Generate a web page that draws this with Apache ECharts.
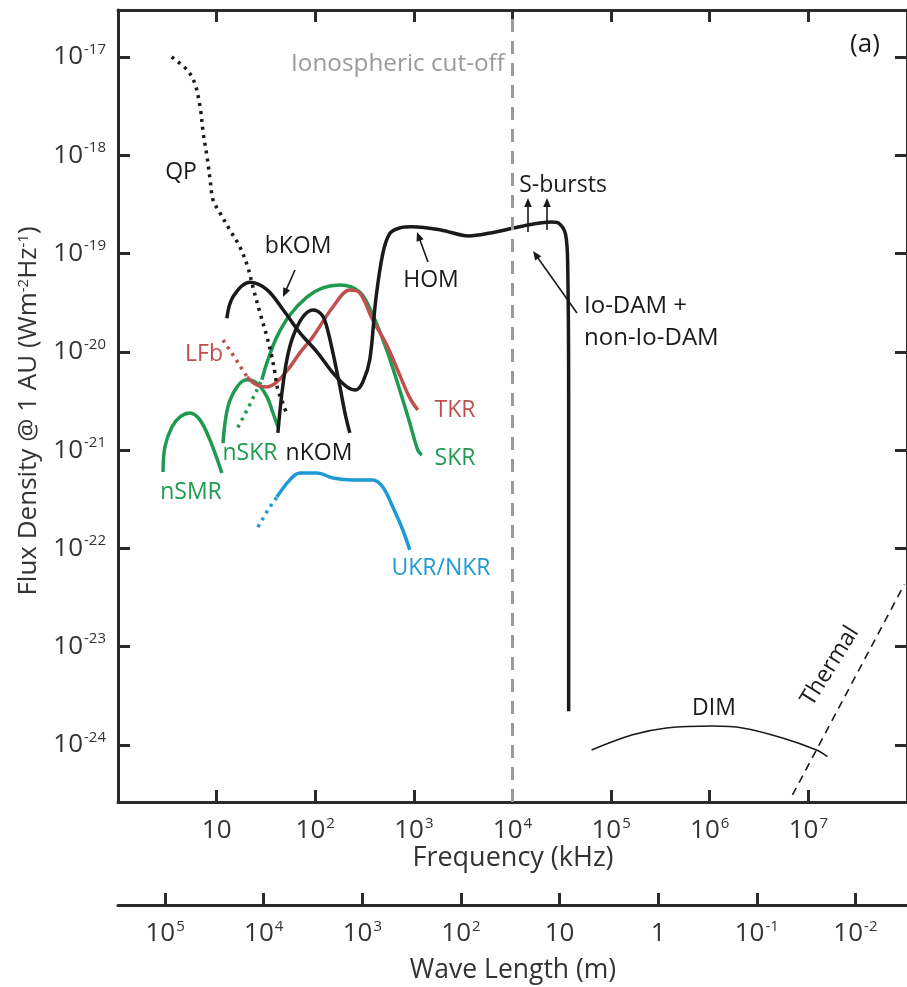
<!DOCTYPE html>
<html>
<head>
<meta charset="utf-8">
<script src="https://cdn.jsdelivr.net/npm/echarts@6/dist/echarts.min.js"></script>
<style>html,body{margin:0;padding:0;background:#fff}#c{width:907px;height:987px}</style>
</head>
<body>
<div id="c"></div>
<script>
// ---------- data (frequency kHz, flux density W m^-2 Hz^-1) ----------
const freqTicks = [10, 1e2, 1e3, 1e4, 1e5, 1e6, 1e7];
const fluxTicks = [1e-17, 1e-18, 1e-19, 1e-20, 1e-21, 1e-22, 1e-23, 1e-24];
const waveTicks = [1e5, 1e4, 1e3, 1e2, 10, 1, 1e-1, 1e-2];
const ionoCutoff = 1e4;

const qp = [[3.5,1.0e-17],[5.0,7.4e-18],[6.0,5.4e-18],[6.8,3.1e-18],[7.3,1.7e-18],[8.0,9.6e-19],[8.6,5.6e-19],[9.2,3.5e-19],[10.8,2.6e-19],[13.6,1.74e-19],[17.2,1.17e-19],[20.7,7.3e-20],[23.3,4.6e-20],[27.5,2.5e-20],[32.4,1.42e-20],[36.3,8.9e-21],[39,6.1e-21],[41.8,4.1e-21],[47,3.0e-21],[51.5,2.3e-21]];
const kom_hom_dam = [[12.7,2.2e-20],[14.6,3.6e-20],[21.7,5.1e-20],[32.3,4.3e-20],[47,2.7e-20],[70,1.56e-20],[104,1.0e-20],[151,6.1e-21],[209,4.4e-21],[258,4.1e-21],[303,4.9e-21],[357,8.3e-21],[411,3.4e-20],[484,1.0e-19],[570,1.6e-19],[719,1.82e-19],[952,1.87e-19],[1875,1.74e-19],[3600,1.51e-19],[6000,1.62e-19],[10300,1.82e-19],[16400,2.0e-19],[24900,2.09e-19],[30100,2.0e-19],[34600,1.55e-19],[36300,7.3e-20],[37100,3.2e-21],[37100,2.2e-24]];
const nkom = [[41.8,1.5e-21],[45.9,3.8e-21],[51.5,8.3e-21],[59.3,1.42e-20],[74.8,2.26e-20],[94.6,2.67e-20],[117,2.37e-20],[131,1.79e-20],[151,9.8e-21],[178,4.4e-21],[200,2.4e-21],[224,1.5e-21]];
const skr = [[28.8,5.2e-21],[32.3,7.7e-21],[40.8,1.42e-20],[55.3,2.37e-20],[82.2,3.61e-20],[119,4.47e-20],[178,4.8e-20],[283,4.07e-20],[383,2.37e-20],[531,1.04e-20],[719,4.09e-21],[909,1.89e-21],[1096,1.0e-21],[1203,8.9e-22]];
const nskrDotted = [[16.4,1.7e-21],[21.7,2.9e-21],[28.8,5.2e-21]];
const nskr = [[11.6,1.18e-21],[13.0,2.75e-21],[16.1,4.4e-21],[20.3,5.2e-21],[25.6,4.8e-21],[32.3,3.5e-21],[37.2,2.4e-21],[41.8,1.72e-21]];
const nsmr = [[2.86,6.0e-22],[2.99,1.08e-21],[3.52,1.72e-21],[4.25,2.18e-21],[5.36,2.39e-21],[6.77,2.03e-21],[8.55,1.27e-21],[11.3,5.86e-22]];
const lfb = [[11.6,1.32e-20],[15.3,8.7e-21],[20.3,5.6e-21]];
const tkr = [[20.3,5.56e-21],[25.6,4.6e-21],[32.3,4.4e-21],[40.8,4.94e-21],[55.3,7.0e-21],[69.8,9.75e-21],[94.6,1.42e-20],[151,2.86e-20],[224,4.27e-20],[283,3.97e-20],[383,2.11e-20],[531,1.17e-20],[719,5.8e-21],[909,3.4e-21],[1096,2.56e-21]];
const ukrDotted = [[26.2,1.65e-22],[33.1,2.46e-22],[40.8,3.34e-22]];
const ukr = [[40.8,3.34e-22],[55.3,4.98e-22],[69.8,5.86e-22],[104,5.86e-22],[151,5.21e-22],[240,4.98e-22],[383,4.98e-22],[484,4.22e-22],[611,2.64e-22],[772,1.54e-22],[909,9.66e-23]];
const dim = [[63400,8.9e-25],[165000,1.27e-24],[365000,1.49e-24],[1.07e6,1.56e-24],[2.15e6,1.49e-24],[5.47e6,1.18e-24],[1.21e7,8.9e-25],[1.56e7,7.6e-25]];
const thermal = [[6.9e6,3.1e-25],[9.4e7,4.3e-23]];

// ---------- styling ----------
const FONT = 'Open Sans';
const BLACK = '#1a1a1a', GREEN = '#1f9a4e', RED = '#c0504d', BLUE = '#1d9ad6', GRAY = '#9a9a9a';
const AXC = '#2a2a2a';

const chart = echarts.init(document.getElementById('c'), null, {renderer: 'canvas'});

function pow10Label(v) {
  const e = Math.round(Math.log10(v));
  if (e === 0) return '{b|1}';
  if (e === 1) return '{b|10}';
  return '{b|10}{s|' + e + '}';
}
const richNum = {
  b: {fontSize: 26, fontFamily: FONT, color: '#333', lineHeight: 30},
  s: {fontSize: 15, fontFamily: FONT, color: '#333', verticalAlign: 'top', lineHeight: 30, padding: [0, 0, 0, 1]}
};

function lineSeries(name, data, color, width, type, extra) {
  return Object.assign({
    name, type: 'line', data, showSymbol: false, symbol: 'none', smooth: 0.35,
    lineStyle: {color, width, type: type || 'solid', cap: 'butt', join: 'round'},
    silent: true, animation: false
  }, extra || {});
}

function arrow(x1, y1, x2, y2) {
  const a = Math.atan2(y2 - y1, x2 - x1), L = 9, W = 3.8;
  const c = Math.cos(a), s = Math.sin(a);
  const bx = x2 - L * c, by = y2 - L * s;
  return [
    {type: 'line', shape: {x1, y1, x2: bx + 2 * c, y2: by + 2 * s}, style: {stroke: BLACK, lineWidth: 1.6}},
    {type: 'polygon', shape: {points: [[x2, y2], [bx + W * s, by - W * c], [bx - W * s, by + W * c]]}, style: {fill: BLACK}}
  ];
}
function txt(text, x, y, color, size, align, extra) {
  return Object.assign({type: 'text', x, y, style: {text, fill: color, fontSize: size, fontFamily: FONT, align: align || 'center', verticalAlign: 'middle'}}, extra || {});
}

const LS = 23;
const graphics = [
  txt('Ionospheric cut-off', 398, 64, GRAY, 24.3),
  txt('(a)', 865, 45, BLACK, 26),
  txt('QP', 181, 172, BLACK, LS),
  txt('bKOM', 298, 246, BLACK, LS),
  txt('HOM', 431, 280, BLACK, LS),
  txt('S-bursts', 563, 185, BLACK, LS),
  txt('Io-DAM +', 584, 306, BLACK, 24, 'left'),
  txt('non-Io-DAM', 584, 338, BLACK, 24, 'left'),
  txt('LFb', 204, 354, RED, LS),
  txt('TKR', 455, 410, RED, LS),
  txt('SKR', 455, 458, GREEN, LS),
  txt('nSKR', 250, 453, GREEN, LS),
  txt('nKOM', 319, 453, BLACK, LS),
  txt('nSMR', 191, 492, GREEN, LS),
  txt('UKR/NKR', 441, 568, BLUE, LS),
  txt('DIM', 714, 708, BLACK, LS),
  txt('Thermal', 830, 666, BLACK, LS, 'center', {rotation: 58 * Math.PI / 180}),
  txt('Frequency (kHz)', 513, 858, '#333', 27),
  txt('Wave Length (m)', 513, 970, '#333', 26.5),
  {type: 'text', x: 29, y: 411, rotation: Math.PI / 2,
   style: {text: 'Flux Density @ 1 AU (Wm{s|-2}Hz{s|-1})', fill: '#333', fontSize: 26, fontFamily: FONT, align: 'center', verticalAlign: 'middle',
     rich: {s: {fontSize: 15, fontFamily: FONT, fill: '#333', verticalAlign: 'top'}}}}
].concat(
  arrow(295, 270, 283, 297),
  arrow(428, 262, 417, 232),
  arrow(577, 313, 533, 251),
  arrow(528, 232, 528, 198),
  arrow(547, 230, 547, 198)
);

const axisLine = {show: true, lineStyle: {color: AXC, width: 3}};
const tickStyle = {color: AXC, width: 3};

const option = {
  animation: false,
  backgroundColor: '#fff',
  grid: {left: 118, top: 10, right: -1, height: 792, containLabel: false},
  xAxis: [
    {type: 'log', logBase: 10, min: 1, max: 1e8, position: 'bottom',
     axisLine, splitLine: {show: false}, minorTick: {show: false},
     axisTick: {show: true, inside: true, length: 12, lineStyle: tickStyle, customValues: freqTicks},
     axisLabel: {show: true, customValues: freqTicks, margin: 14, formatter: pow10Label, rich: richNum}},
    {type: 'log', logBase: 10, min: 3e5 / 1e8, max: 3e5, inverse: true, position: 'bottom', offset: 103,
     axisLine, splitLine: {show: false},
     axisTick: {show: true, inside: true, length: 12, lineStyle: tickStyle, customValues: waveTicks},
     axisLabel: {show: true, customValues: waveTicks, margin: 14, formatter: pow10Label, rich: richNum}},
    {type: 'log', logBase: 10, min: 1, max: 1e8, position: 'top',
     axisLine, splitLine: {show: false},
     axisTick: {show: true, inside: true, length: 12, lineStyle: tickStyle, customValues: freqTicks},
     axisLabel: {show: false}}
  ],
  yAxis: [
    {type: 'log', logBase: 10, min: Math.pow(10, -24.58), max: Math.pow(10, -16.522), position: 'left',
     axisLine, splitLine: {show: false},
     axisTick: {show: true, inside: true, length: 12, lineStyle: tickStyle, customValues: fluxTicks},
     axisLabel: {show: true, customValues: fluxTicks, margin: 12, formatter: pow10Label, rich: richNum}},
    {type: 'log', logBase: 10, min: Math.pow(10, -24.58), max: Math.pow(10, -16.522), position: 'right',
     axisLine, splitLine: {show: false},
     axisTick: {show: true, inside: true, length: 12, lineStyle: tickStyle, customValues: fluxTicks},
     axisLabel: {show: false}}
  ],
  series: [
    lineSeries('nSMR', nsmr, GREEN, 3.5),
    lineSeries('nSKR', nskr, GREEN, 3.5),
    lineSeries('nSKR dotted', nskrDotted, GREEN, 3.5, [3, 5], {smooth: false}),
    lineSeries('SKR', skr, GREEN, 3.5),
    lineSeries('LFb', lfb, RED, 3.5, [3, 5], {smooth: false}),
    lineSeries('TKR', tkr, RED, 3.5),
    lineSeries('UKR dotted', ukrDotted, BLUE, 3.5, [3, 5], {smooth: false}),
    lineSeries('UKR/NKR', ukr, BLUE, 3.5),
    lineSeries('QP', qp, BLACK, 3.5, [3, 5]),
    lineSeries('nKOM', nkom, BLACK, 3.5),
    lineSeries('bKOM-HOM-DAM', kom_hom_dam, BLACK, 3.5, 'solid', {
      markLine: {symbol: 'none', silent: true, animation: false, label: {show: false},
        lineStyle: {color: GRAY, width: 3, type: [13, 9]}, data: [{xAxis: ionoCutoff}]}
    }),
    lineSeries('DIM', dim, BLACK, 1.6),
    lineSeries('Thermal', thermal, BLACK, 1.6, [8, 6], {smooth: false})
  ],
  graphic: graphics
};
chart.setOption(option);
</script>
</body>
</html>
